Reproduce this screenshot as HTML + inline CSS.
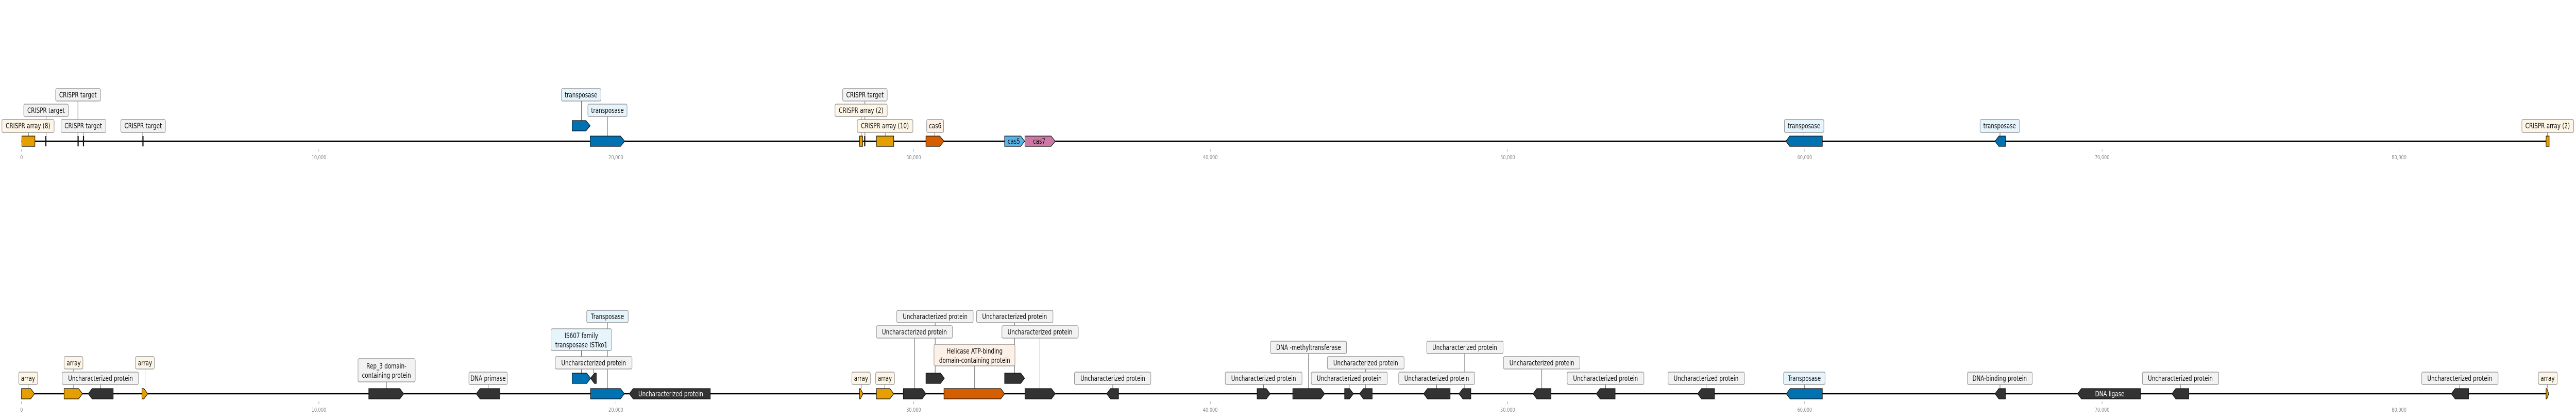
<!DOCTYPE html>
<html><head><meta charset="utf-8">
<style>
html,body{margin:0;padding:0;background:#fff;width:100%;height:100%;overflow:hidden;}
svg{display:block;position:fixed;left:0;top:0;width:100vw;height:100vh;}
text{font-family:"DejaVu Sans","Liberation Sans",sans-serif;}
.lb{font-size:14px;fill:#111;text-anchor:middle;}
.tk{font-size:11px;fill:#888;text-anchor:middle;}
.g{fill:#f2f2f2;stroke:#888;stroke-width:1.2;}
.c{fill:#fdf6e7;stroke:#888;stroke-width:1.2;}
.b{fill:#e6f4fc;stroke:#888;stroke-width:1.2;}
.o{fill:#fdf0e6;stroke:#888;stroke-width:1.2;}
.cn{stroke:#333;stroke-width:1;}
.f{stroke:#111;stroke-width:1.3;}
.k{fill:#333;}
.bl{fill:#0072b2;}
.or{fill:#e69f00;}
.rd{fill:#d55e00;}
.wt{font-size:14px;fill:#fff;text-anchor:middle;}
</style></head><body>
<svg viewBox="0 0 6713 813" preserveAspectRatio="none" xmlns="http://www.w3.org/2000/svg">
<!-- ===== TRACK 1 ===== -->
<line x1="56" y1="274" x2="6643" y2="274" stroke="#000" stroke-width="2.5"/>
<g stroke="#888" stroke-width="1">
<line x1="56" y1="290" x2="56" y2="294"/><line x1="831" y1="290" x2="831" y2="294"/><line x1="1605" y1="290" x2="1605" y2="294"/><line x1="2381" y1="290" x2="2381" y2="294"/><line x1="3154" y1="290" x2="3154" y2="294"/><line x1="3929" y1="290" x2="3929" y2="294"/><line x1="4703" y1="290" x2="4703" y2="294"/><line x1="5478" y1="290" x2="5478" y2="294"/><line x1="6252" y1="290" x2="6252" y2="294"/>
</g>
<text class="tk" x="56" y="309">0</text><text class="tk" x="831" y="309">10,000</text><text class="tk" x="1605" y="309">20,000</text><text class="tk" x="2381" y="309">30,000</text><text class="tk" x="3154" y="309">40,000</text><text class="tk" x="3929" y="309">50,000</text><text class="tk" x="4703" y="309">60,000</text><text class="tk" x="5478" y="309">70,000</text><text class="tk" x="6252" y="309">80,000</text>
<g class="cn">
<line x1="74" y1="257" x2="74" y2="264"/>
<line x1="120" y1="226" x2="120" y2="264"/>
<line x1="203" y1="196" x2="203" y2="264"/>
<line x1="217" y1="257" x2="217" y2="264"/>
<line x1="372" y1="257" x2="372" y2="264"/>
<line x1="1515" y1="196" x2="1515" y2="234"/>
<line x1="1583" y1="226" x2="1583" y2="264"/>
<line x1="2254" y1="196" x2="2254" y2="264"/>
<line x1="2244" y1="226" x2="2244" y2="264"/>
<line x1="2308" y1="257" x2="2308" y2="264"/>
<line x1="2436" y1="257" x2="2436" y2="264"/>
<line x1="4701" y1="257" x2="4701" y2="264"/>
<line x1="5212" y1="257" x2="5212" y2="264"/>
<line x1="6639" y1="257" x2="6639" y2="264"/>
</g>
<rect class="f or" x="57" y="264" width="34" height="20"/>
<rect x="118" y="264" width="3" height="20" fill="#111"/>
<rect x="202" y="264" width="3" height="20" fill="#111"/>
<rect x="216" y="264" width="3" height="20" fill="#111"/>
<rect x="371" y="264" width="3" height="20" fill="#111"/>
<polygon class="f bl" points="1491,234 1527,234 1538,244 1527,254 1491,254"/>
<polygon class="f bl" points="1538,264 1617,264 1628,274 1617,284 1538,284"/>
<rect class="f or" x="2240" y="264" width="8" height="20"/>
<rect x="2252" y="264" width="3" height="20" fill="#111"/>
<rect class="f or" x="2284" y="264" width="45" height="20"/>
<polygon class="f rd" points="2413,264 2449,264 2460,274 2449,284 2413,284"/>
<polygon class="f" fill="#56b4e9" points="2618,264 2660,264 2670,274 2660,284 2618,284"/>
<text class="lb" x="2642" y="279">cas5</text>
<polygon class="f" fill="#cc79a7" points="2671,264 2739,264 2750,274 2739,284 2671,284"/>
<text class="lb" x="2708" y="279">cas7</text>
<polygon class="f bl" points="4654,274 4664,264 4749,264 4749,284 4664,284"/>
<polygon class="f bl" points="5199,274 5209,264 5226,264 5226,284 5209,284"/>
<rect class="f or" x="6635" y="264" width="8" height="20"/>
<rect class="c" x="5" y="232" width="136" height="25" rx="3"/><text class="lb" x="73" y="249">CRISPR array (8)</text>
<rect class="g" x="62" y="202" width="116" height="24" rx="3"/><text class="lb" x="120" y="219">CRISPR target</text>
<rect class="g" x="145" y="172" width="117" height="24" rx="3"/><text class="lb" x="203" y="189">CRISPR target</text>
<rect class="g" x="159" y="232" width="117" height="25" rx="3"/><text class="lb" x="217" y="249">CRISPR target</text>
<rect class="g" x="315" y="232" width="116" height="25" rx="3"/><text class="lb" x="373" y="249">CRISPR target</text>
<rect class="b" x="1463" y="172" width="103" height="24" rx="3"/><text class="lb" x="1514" y="189">transposase</text>
<rect class="b" x="1532" y="202" width="102" height="24" rx="3"/><text class="lb" x="1583" y="219">transposase</text>
<rect class="g" x="2196" y="172" width="116" height="24" rx="3"/><text class="lb" x="2254" y="189">CRISPR target</text>
<rect class="c" x="2176" y="202" width="136" height="24" rx="3"/><text class="lb" x="2244" y="219">CRISPR array (2)</text>
<rect class="c" x="2234" y="232" width="145" height="25" rx="3"/><text class="lb" x="2306" y="249">CRISPR array (10)</text>
<rect class="o" x="2415" y="232" width="44" height="25" rx="3"/><text class="lb" x="2437" y="249">cas6</text>
<rect class="b" x="4650" y="232" width="103" height="25" rx="3"/><text class="lb" x="4701" y="249">transposase</text>
<rect class="b" x="5160" y="232" width="103" height="25" rx="3"/><text class="lb" x="5211" y="249">transposase</text>
<rect class="c" x="6572" y="232" width="135" height="25" rx="3"/><text class="lb" x="6639" y="249">CRISPR array (2)</text>

<!-- ===== TRACK 2 ===== -->
<line x1="56" y1="764" x2="6642" y2="764" stroke="#000" stroke-width="2.5"/>
<g stroke="#888" stroke-width="1">
<line x1="56" y1="779" x2="56" y2="784"/><line x1="831" y1="779" x2="831" y2="784"/><line x1="1605" y1="779" x2="1605" y2="784"/><line x1="2381" y1="779" x2="2381" y2="784"/><line x1="3154" y1="779" x2="3154" y2="784"/><line x1="3929" y1="779" x2="3929" y2="784"/><line x1="4703" y1="779" x2="4703" y2="784"/><line x1="5478" y1="779" x2="5478" y2="784"/><line x1="6252" y1="779" x2="6252" y2="784"/>
</g>
<text class="tk" x="56" y="799">0</text><text class="tk" x="831" y="799">10,000</text><text class="tk" x="1605" y="799">20,000</text><text class="tk" x="2381" y="799">30,000</text><text class="tk" x="3154" y="799">40,000</text><text class="tk" x="3929" y="799">50,000</text><text class="tk" x="4703" y="799">60,000</text><text class="tk" x="5478" y="799">70,000</text><text class="tk" x="6252" y="799">80,000</text>
<g class="cn">
<line x1="73" y1="746" x2="73" y2="754"/>
<line x1="192" y1="716" x2="192" y2="754"/>
<line x1="262" y1="746" x2="262" y2="754"/>
<line x1="378" y1="716" x2="378" y2="754"/>
<line x1="1007" y1="741" x2="1007" y2="754"/>
<line x1="1272" y1="746" x2="1272" y2="754"/>
<line x1="1515" y1="680" x2="1515" y2="724"/>
<line x1="1583" y1="626" x2="1583" y2="754"/>
<line x1="1547" y1="716" x2="1547" y2="724"/>
<line x1="2244" y1="746" x2="2244" y2="754"/>
<line x1="2306" y1="746" x2="2306" y2="754"/>
<line x1="2384" y1="656" x2="2384" y2="754"/>
<line x1="2437" y1="626" x2="2437" y2="724"/>
<line x1="2540" y1="710" x2="2540" y2="754"/>
<line x1="2644" y1="626" x2="2644" y2="724"/>
<line x1="2710" y1="656" x2="2710" y2="754"/>
<line x1="2900" y1="746" x2="2900" y2="754"/>
<line x1="3293" y1="746" x2="3293" y2="754"/>
<line x1="3410" y1="686" x2="3410" y2="754"/>
<line x1="3516" y1="746" x2="3516" y2="754"/>
<line x1="3559" y1="716" x2="3559" y2="754"/>
<line x1="3744" y1="746" x2="3744" y2="754"/>
<line x1="3817" y1="686" x2="3817" y2="754"/>
<line x1="4018" y1="716" x2="4018" y2="754"/>
<line x1="4184" y1="746" x2="4184" y2="754"/>
<line x1="4446" y1="746" x2="4446" y2="754"/>
<line x1="4702" y1="746" x2="4702" y2="754"/>
<line x1="5212" y1="746" x2="5212" y2="754"/>
<line x1="5682" y1="746" x2="5682" y2="754"/>
<line x1="6410" y1="746" x2="6410" y2="754"/>
<line x1="6638" y1="746" x2="6638" y2="754"/>
</g>
<polygon class="f or" points="56,754 80,754 90,764 80,774 56,774"/>
<polygon class="f or" points="167,754 205,754 215,764 205,774 167,774"/>
<polygon class="f k" points="230,764 240,754 295,754 295,774 240,774"/>
<polygon class="f or" points="370,754 375,754 385,764 375,774 370,774"/>
<polygon class="f k" points="961,754 1042,754 1052,764 1042,774 961,774"/>
<polygon class="f k" points="1241,764 1251,754 1303,754 1303,774 1251,774"/>
<polygon class="f bl" points="1491,724 1529,724 1539,734 1529,744 1491,744"/>
<polygon class="f k" points="1539,734 1549,724 1554,724 1554,744 1549,744"/>
<polygon class="f bl" points="1539,754 1617,754 1627,764 1617,774 1539,774"/>
<polygon class="f k" points="1640,764 1650,754 1851,754 1851,774 1650,774"/>
<text class="wt" x="1748" y="769">Uncharacterized protein</text>
<polygon class="f or" points="2240,754 2242,754 2249,764 2242,774 2240,774"/>
<polygon class="f or" points="2284,754 2319,754 2329,764 2319,774 2284,774"/>
<polygon class="f k" points="2354,754 2403,754 2413,764 2403,774 2354,774"/>
<polygon class="f k" points="2413,724 2451,724 2461,734 2451,744 2413,744"/>
<polygon class="f rd" points="2460,754 2608,754 2618,764 2608,774 2460,774"/>
<polygon class="f k" points="2618,724 2660,724 2670,734 2660,744 2618,744"/>
<polygon class="f k" points="2671,754 2740,754 2750,764 2740,774 2671,774"/>
<polygon class="f k" points="2884,764 2894,754 2915,754 2915,774 2894,774"/>
<polygon class="f k" points="3276,754 3300,754 3310,764 3300,774 3276,774"/>
<polygon class="f k" points="3369,754 3442,754 3452,764 3442,774 3369,774"/>
<polygon class="f k" points="3504,754 3517,754 3527,764 3517,774 3504,774"/>
<polygon class="f k" points="3543,764 3553,754 3576,754 3576,774 3553,774"/>
<polygon class="f k" points="3710,764 3720,754 3779,754 3779,774 3720,774"/>
<polygon class="f k" points="3802,764 3812,754 3833,754 3833,774 3812,774"/>
<polygon class="f k" points="3995,764 4005,754 4042,754 4042,774 4005,774"/>
<polygon class="f k" points="4160,764 4170,754 4209,754 4209,774 4170,774"/>
<polygon class="f k" points="4424,764 4434,754 4468,754 4468,774 4434,774"/>
<polygon class="f bl" points="4655,764 4665,754 4749,754 4749,774 4665,774"/>
<polygon class="f k" points="5199,764 5209,754 5226,754 5226,774 5209,774"/>
<polygon class="f k" points="5414,764 5424,754 5578,754 5578,774 5424,774"/>
<text class="wt" x="5498" y="769">DNA ligase</text>
<polygon class="f k" points="5660,764 5670,754 5704,754 5704,774 5670,774"/>
<polygon class="f k" points="6388,764 6398,754 6433,754 6433,774 6398,774"/>
<polygon class="f or" points="6635,754 6637,754 6642,764 6637,774 6635,774"/>
<rect class="c" x="49" y="722" width="49" height="24" rx="3"/><text class="lb" x="73" y="739">array</text>
<rect class="c" x="167" y="692" width="49" height="24" rx="3"/><text class="lb" x="192" y="709">array</text>
<rect class="g" x="162" y="722" width="199" height="24" rx="3"/><text class="lb" x="262" y="739">Uncharacterized protein</text>
<rect class="c" x="353" y="692" width="49" height="24" rx="3"/><text class="lb" x="378" y="709">array</text>
<rect class="g" x="933" y="696" width="149" height="45" rx="3"/><text class="lb" x="1007" y="715">Rep_3 domain-</text><text class="lb" x="1007" y="733">containing protein</text>
<rect class="g" x="1222" y="722" width="100" height="24" rx="3"/><text class="lb" x="1272" y="739">DNA primase</text>
<rect class="b" x="1529" y="602" width="108" height="24" rx="3"/><text class="lb" x="1583" y="619">Transposase</text>
<rect class="b" x="1436" y="638" width="158" height="42" rx="3"/><text class="lb" x="1515" y="656">IS607 family</text><text class="lb" x="1515" y="674">transposase ISTko1</text>
<rect class="g" x="1447" y="692" width="200" height="24" rx="3"/><text class="lb" x="1547" y="709">Uncharacterized protein</text>
<rect class="c" x="2220" y="722" width="48" height="24" rx="3"/><text class="lb" x="2244" y="739">array</text>
<rect class="c" x="2282" y="722" width="49" height="24" rx="3"/><text class="lb" x="2306" y="739">array</text>
<rect class="g" x="2337" y="602" width="199" height="24" rx="3"/><text class="lb" x="2437" y="619">Uncharacterized protein</text>
<rect class="g" x="2545" y="602" width="199" height="24" rx="3"/><text class="lb" x="2644" y="619">Uncharacterized protein</text>
<rect class="g" x="2284" y="632" width="198" height="24" rx="3"/><text class="lb" x="2383" y="649">Uncharacterized protein</text>
<rect class="g" x="2611" y="632" width="199" height="24" rx="3"/><text class="lb" x="2710" y="649">Uncharacterized protein</text>
<rect class="o" x="2434" y="668" width="211" height="42" rx="3"/><text class="lb" x="2540" y="686">Helicase ATP-binding</text><text class="lb" x="2540" y="704">domain-containing protein</text>
<rect class="g" x="2800" y="722" width="199" height="24" rx="3"/><text class="lb" x="2900" y="739">Uncharacterized protein</text>
<rect class="g" x="3193" y="722" width="200" height="24" rx="3"/><text class="lb" x="3293" y="739">Uncharacterized protein</text>
<rect class="g" x="3311" y="662" width="198" height="24" rx="3"/><text class="lb" x="3410" y="679">DNA -methyltransferase</text>
<rect class="g" x="3417" y="722" width="198" height="24" rx="3"/><text class="lb" x="3516" y="739">Uncharacterized protein</text>
<rect class="g" x="3459" y="692" width="200" height="24" rx="3"/><text class="lb" x="3559" y="709">Uncharacterized protein</text>
<rect class="g" x="3645" y="722" width="198" height="24" rx="3"/><text class="lb" x="3744" y="739">Uncharacterized protein</text>
<rect class="g" x="3718" y="662" width="199" height="24" rx="3"/><text class="lb" x="3817" y="679">Uncharacterized protein</text>
<rect class="g" x="3918" y="692" width="199" height="24" rx="3"/><text class="lb" x="4018" y="709">Uncharacterized protein</text>
<rect class="g" x="4084" y="722" width="200" height="24" rx="3"/><text class="lb" x="4184" y="739">Uncharacterized protein</text>
<rect class="g" x="4347" y="722" width="199" height="24" rx="3"/><text class="lb" x="4446" y="739">Uncharacterized protein</text>
<rect class="b" x="4648" y="722" width="108" height="24" rx="3"/><text class="lb" x="4702" y="739">Transposase</text>
<rect class="g" x="5127" y="722" width="169" height="24" rx="3"/><text class="lb" x="5211" y="739">DNA-binding protein</text>
<rect class="g" x="5583" y="722" width="199" height="24" rx="3"/><text class="lb" x="5682" y="739">Uncharacterized protein</text>
<rect class="g" x="6311" y="722" width="199" height="24" rx="3"/><text class="lb" x="6410" y="739">Uncharacterized protein</text>
<rect class="c" x="6615" y="722" width="49" height="24" rx="3"/><text class="lb" x="6639" y="739">array</text>
</svg>
</body></html>
